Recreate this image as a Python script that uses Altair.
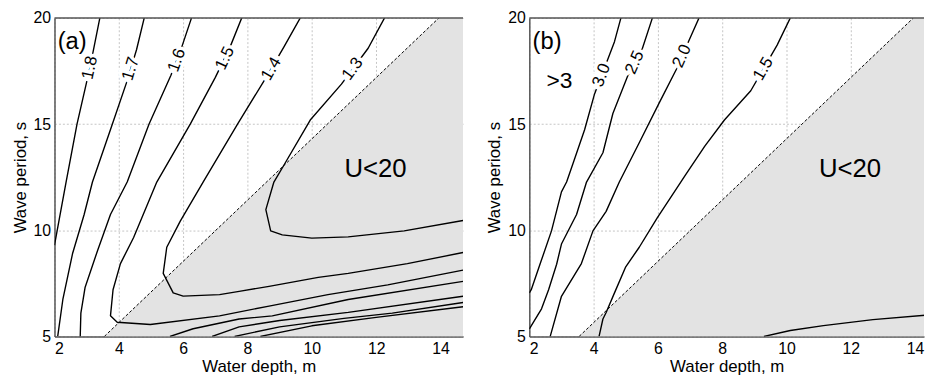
import altair as alt
import pandas as pd

FONT = "Liberation Sans"
X_TICKS = [2, 4, 6, 8, 10, 12, 14]
Y_TICKS = [5, 10, 15, 20]

# U = 20 boundary (dashed line), same in both panels
bound_x = [3.55, 13.95]
bound_y = [5.0, 20.0]

# ---------------- panel (a) contours ----------------
a18_x = [3.41, 3.10, 2.70, 2.36, 2.08, 2.0]
a18_y = [20.0, 17.65, 15.0, 12.27, 9.96, 9.3]
a17_x = [4.79, 4.55, 4.25, 3.80, 3.18, 2.92, 2.56, 2.26, 2.10]
a17_y = [20.0, 18.5, 17.0, 15.0, 12.27, 10.73, 8.89, 6.74, 5.0]
a16_x = [6.26, 5.95, 5.62, 4.94, 4.26, 3.74, 3.34, 2.95, 2.82, 2.80]
a16_y = [20.0, 18.6, 17.3, 15.0, 12.27, 10.74, 9.05, 7.3, 6.1, 5.0]
a15_x = [7.82, 7.45, 7.00, 6.22, 5.18, 4.46, 4.05, 3.82, 3.74, 3.95, 4.98, 7.13, 8.67, 10.5, 12.36, 14.7]
a15_y = [20.0, 18.6, 17.2, 15.0, 12.27, 9.66, 8.43, 7.2, 5.97, 5.67, 5.56, 5.97, 6.43, 6.97, 7.43, 8.12]
a14_x = [9.64, 9.12, 8.58, 7.69, 6.62, 5.91, 5.49, 5.38, 5.69, 6.0, 7.13, 7.74, 8.67, 10.2, 11.13, 12.97, 14.7]
a14_y = [20.0, 18.6, 17.2, 15.0, 12.27, 10.43, 9.2, 7.97, 7.05, 6.9, 6.97, 7.12, 7.36, 7.78, 7.97, 8.43, 8.95]
a13_x = [12.26, 11.75, 10.92, 9.95, 9.18, 8.82, 8.57, 8.72, 9.08, 10.0, 11.13, 12.87, 14.7]
a13_y = [20.0, 18.57, 16.88, 15.19, 13.19, 12.27, 10.97, 9.97, 9.78, 9.63, 9.69, 9.97, 10.46]
a16b_x = [5.59, 6.31, 7.74, 8.77, 11.13, 14.7]
a16b_y = [5.0, 5.36, 5.82, 5.97, 6.74, 7.59]
a17b_x = [6.9, 7.74, 9.0, 11.13, 14.7]
a17b_y = [5.0, 5.45, 5.75, 6.13, 6.89]
a18b_x = [7.6, 9.0, 11.0, 12.5, 14.7]
a18b_y = [5.0, 5.45, 5.85, 6.1, 6.6]
a19b_x = [8.4, 10.0, 12.0, 14.7]
a19b_y = [5.0, 5.5, 5.9, 6.4]

a_lines = {
    "1.8": (a18_x, a18_y), "1.7": (a17_x, a17_y), "1.6": (a16_x, a16_y),
    "1.5": (a15_x, a15_y), "1.4": (a14_x, a14_y), "1.3": (a13_x, a13_y),
    "1.6b": (a16b_x, a16b_y), "1.7b": (a17b_x, a17b_y),
    "1.8b": (a18b_x, a18b_y), "1.9b": (a19b_x, a19b_y),
}
a_lab_text = ["1.8", "1.7", "1.6", "1.5", "1.4", "1.3"]
a_lab_x = [3.10, 4.37, 5.80, 7.30, 8.74, 11.27]
a_lab_y = [17.65, 17.6, 18.0, 18.1, 17.6, 17.6]
a_lab_ang = [282, 287, 290, 295, 300, 306]

# ---------------- panel (b) contours ----------------
b30_x = [4.85, 4.65, 4.03, 3.72, 3.37, 3.16, 3.0, 2.69, 2.34, 2.06, 2.0]
b30_y = [20.0, 18.88, 16.42, 14.73, 13.19, 12.27, 11.81, 9.97, 8.43, 7.2, 7.05]
b25_x = [5.83, 5.52, 5.06, 4.60, 4.29, 3.78, 3.47, 3.0, 2.85, 2.60, 2.38, 2.04, 2.0]
b25_y = [20.0, 18.57, 17.26, 15.5, 13.65, 12.27, 10.74, 9.35, 8.4, 7.2, 6.3, 5.45, 5.35]
b20_x = [7.28, 6.95, 6.60, 6.03, 5.42, 4.80, 4.39, 3.98, 3.62, 3.0, 2.65]
b20_y = [20.0, 18.88, 17.65, 15.96, 14.12, 12.27, 10.89, 9.97, 8.43, 6.89, 5.0]
b15_x = [10.12, 9.71, 8.89, 8.07, 7.46, 6.85, 5.98, 5.42, 5.0, 4.65, 4.39, 4.29, 4.17]
b15_y = [20.0, 18.72, 16.57, 15.19, 13.96, 12.58, 10.58, 9.2, 8.28, 7.05, 6.13, 5.82, 5.0]
b_low_x = [9.3, 10.12, 11.15, 12.69, 14.32]
b_low_y = [5.0, 5.28, 5.51, 5.79, 6.0]

b_lines = {
    "3.0": (b30_x, b30_y), "2.5": (b25_x, b25_y), "2.0": (b20_x, b20_y),
    "1.5": (b15_x, b15_y), "low": (b_low_x, b_low_y),
}
b_lab_text = ["3.0", "2.5", "2.0", "1.5"]
b_lab_x = [4.25, 5.28, 6.75, 9.28]
b_lab_y = [17.3, 17.9, 18.2, 17.6]
b_lab_ang = [291, 294, 294, 300]


def lines_df(lines):
    rows = []
    for name, (xs, ys) in lines.items():
        for i, (x, y) in enumerate(zip(xs, ys)):
            rows.append({"seg": name, "i": i, "x": x, "y": y})
    return pd.DataFrame(rows)


def make_panel(xmax, width, lines, lab_text, lab_x, lab_y, lab_ang, notes):
    height = 322
    xs = alt.Scale(domain=[2, xmax], nice=False, zero=False)
    ys = alt.Scale(domain=[5, 20], nice=False, zero=False)

    area_df = pd.DataFrame({"x": [bound_x[0], bound_x[1], xmax],
                            "y": [bound_y[0], bound_y[1], 20.0],
                            "y0": [5.0, 5.0, 5.0]})
    area = alt.Chart(area_df).mark_area(color="#e3e3e3", clip=True).encode(
        x=alt.X("x:Q", scale=xs, axis=alt.Axis(
            values=X_TICKS, title="Water depth, m", grid=True, ticks=False,
            labelPadding=4, titlePadding=2)),
        y=alt.Y("y:Q", scale=ys, axis=alt.Axis(
            values=Y_TICKS, title="Wave period, s", grid=True, ticks=False,
            labelPadding=4, titlePadding=4)),
        y2="y0:Q",
    )
    bdf = pd.DataFrame({"x": bound_x, "y": bound_y})
    bline = alt.Chart(bdf).mark_line(color="black", strokeWidth=1,
                                     strokeDash=[3, 2], clip=True).encode(
        x=alt.X("x:Q", scale=xs), y=alt.Y("y:Q", scale=ys))

    cdf = lines_df(lines)
    clines = alt.Chart(cdf).mark_line(color="black", strokeWidth=1.4, clip=True,
                                      strokeJoin="round").encode(
        x=alt.X("x:Q", scale=xs), y=alt.Y("y:Q", scale=ys),
        detail="seg:N", order="i:Q")

    ldf = pd.DataFrame({"t": lab_text, "x": lab_x, "y": lab_y, "a": lab_ang})
    halo = alt.Chart(ldf).mark_text(font=FONT, fontSize=17, fill="white",
                                    stroke="white", strokeWidth=7).encode(
        x=alt.X("x:Q", scale=xs), y=alt.Y("y:Q", scale=ys),
        text="t:N", angle=alt.Angle("a:Q", scale=None))
    labs = alt.Chart(ldf).mark_text(font=FONT, fontSize=17, color="black").encode(
        x=alt.X("x:Q", scale=xs), y=alt.Y("y:Q", scale=ys),
        text="t:N", angle=alt.Angle("a:Q", scale=None))

    ndf = pd.DataFrame(notes)
    note_layers = []
    for _, r in ndf.iterrows():
        d = pd.DataFrame([r])
        note_layers.append(alt.Chart(d).mark_text(
            font=FONT, fontSize=float(r["size"]), align=r["align"], color="black").encode(
            x=alt.X("x:Q", scale=xs), y=alt.Y("y:Q", scale=ys), text="t:N"))

    top = alt.Chart(pd.DataFrame({"v": [0]})).mark_rule(
        color="#555555", strokeWidth=1.5).encode(
        x=alt.value(0), x2=alt.value(width), y=alt.value(0))

    return alt.layer(area, bline, clines, halo, labs, *note_layers, top).properties(
        width=width, height=height)


a_notes = {"t": ["(a)", "U<20"], "x": [2.1, 11.98], "y": [18.84, 12.88],
           "size": [24, 26], "align": ["left", "center"]}
b_notes = {"t": ["(b)", ">3", "U<20"], "x": [2.1, 2.94, 11.98],
           "y": [18.84, 17.04, 12.88], "size": [24, 23, 26],
           "align": ["left", "center", "center"]}

pa = make_panel(14.7, 413, a_lines, a_lab_text, a_lab_x, a_lab_y, a_lab_ang, a_notes)
pb = make_panel(14.28, 399, b_lines, b_lab_text, b_lab_x, b_lab_y, b_lab_ang, b_notes)

chart = alt.hconcat(pa, pb, spacing=22).properties(
    padding={"left": 3, "top": 0, "right": 0, "bottom": 0}
).configure_view(stroke=None).configure_axis(
    labelFont=FONT, labelFontSize=16, labelColor="black",
    titleFont=FONT, titleFontSize=17, titleFontWeight="normal", titleColor="black",
    domainColor="#555555", domainWidth=1.5,
    gridColor="#c4c4c4", gridDash=[2, 2], gridWidth=1,
)

chart.save("out.html", embed_options={"renderer": "svg", "actions": False})
